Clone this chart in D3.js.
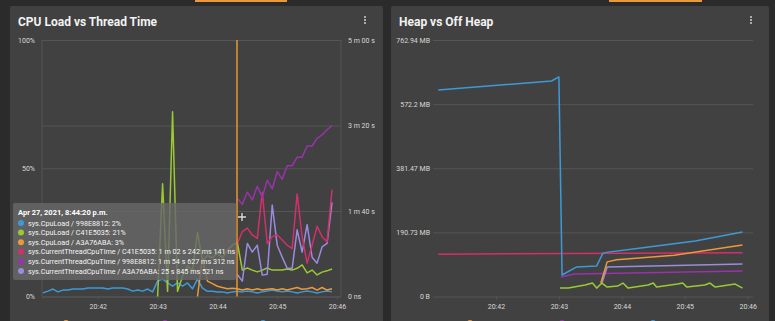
<!DOCTYPE html>
<html>
<head>
<meta charset="utf-8">
<script src="https://cdn.jsdelivr.net/npm/d3@7"></script>
<style>
    body { margin: 0; background: #2b2b2b; font-family: Roboto, "Noto Sans", sans-serif; }
    svg { display: block; }
</style>
</head>
<body>
<svg id="dash" width="775" height="321"></svg>
<script>
// ---- left chart: cpu load (%) + thread cpu time (s) ----
let cpuTimes = [
    "20:41:05","20:41:10","20:41:15","20:41:20","20:41:25","20:41:30","20:41:35","20:41:40","20:41:45","20:41:50","20:41:55","20:42:00",
    "20:42:05","20:42:10","20:42:15","20:42:20","20:42:25","20:42:30","20:42:35","20:42:40","20:42:45","20:42:50","20:42:55","20:43:00",
    "20:43:05","20:43:10","20:43:15","20:43:20","20:43:25","20:43:30","20:43:35","20:43:40","20:43:45","20:43:50","20:43:55","20:44:00",
    "20:44:05","20:44:10","20:44:15","20:44:20","20:44:25","20:44:30","20:44:35","20:44:40","20:44:45","20:44:50","20:44:55","20:45:00",
    "20:45:05","20:45:10","20:45:15","20:45:20","20:45:25","20:45:30","20:45:35","20:45:40","20:45:45","20:45:50","20:45:55"
];
let cpuLoad998 = [1.4,2.1,2.9,1.8,2.5,2.5,2.9,2.9,2.9,3.3,3.3,3.3,3.3,2.9,3.3,3.3,3.3,2.9,2.1,2.5,2.1,2.9,1.8,6.0,
    6.8,5.3,4.0,5.3,4.0,5.3,3.0,6.8,3.3,2.0,2.0,1.8,1.8,1.4,1.8,2.0,
    1.8,2.1,1.8,1.4,1.8,2.1,2.5,2.1,1.8,2.1,1.8,1.4,1.8,2.1,1.8,1.4,1.8,2.1,1.8];
let cpuLoadC41 = [null,null,null,null,null,null,null,null,null,null,null,null,null,null,null,null,null,null,null,null,null,null,null,
    0,44,2,72,2,8,12,10,25,14,16,15,17,15,18,20,21,
    10.3,11.1,10.3,9.6,10.3,11.1,10.3,10.3,10.3,10.7,10.3,11,12.3,9.2,10.3,8.4,9.5,10,10.7];
let cpuLoadA3A = [null,null,null,null,null,null,null,null,null,null,null,null,null,null,null,null,null,null,null,null,null,null,null,
    null,null,null,null,null,null,null,null,
    0,15,6,5,4,3.5,3,3.2,3,
    2.5,3,2.5,3,2.5,2.8,3,2.5,3,2.5,3,3.5,2.8,3,3.5,2.5,3.5,2.5,3];

let threadTimes = ["20:44:20","20:44:25","20:44:30","20:44:35","20:44:40","20:44:45","20:44:50","20:44:55","20:45:00","20:45:05",
    "20:45:10","20:45:15","20:45:20","20:45:25","20:45:30","20:45:35","20:45:40","20:45:45","20:45:50","20:45:55"];
let threadC41 = [62,76,80,72,68,122,62,70,72,66,60,56,120,70,39,60,82,70,64,125];
let thread998 = [114.6,108,122,113,129,116,136,126,146,137,153,153,163,163,176,176,185,189,195,200];
let threadA3A = [25.8,18,62,52,60,25,26,107,60,46,33,33,78,52,84,46,39,58,62,110];

let timeTicks = ["20:42:00", "20:43:00", "20:44:00", "20:45:00", "20:46:00"];
let loadTicks = [0, 50, 100];
let loadTickLabels = ["0%", "50%", "100%"];
let threadTicks = [0, 100, 200, 300];
let threadTickLabels = ["0 ns", "1 m 40 s", "3 m 20 s", "5 m 00 s"];

let tooltipTitle = "Apr 27, 2021, 8:44:20 p.m.";
let tooltipRows = [
    "sys.CpuLoad / 998E8812: 2%",
    "sys.CpuLoad / C41E5035: 21%",
    "sys.CpuLoad / A3A76ABA: 3%",
    "sys.CurrentThreadCpuTime / C41E5035: 1 m 02 s 242 ms 141 ns",
    "sys.CurrentThreadCpuTime / 998E8812: 1 m 54 s 627 ms 312 ns",
    "sys.CurrentThreadCpuTime / A3A76ABA: 25 s 845 ms 521 ns"
];

// ---- right chart: heap vs off heap (MiB) ----
let heapBlueTimes = ["20:41:05","20:42:53","20:43:00","20:43:03","20:43:17","20:43:36","20:43:42","20:43:47","20:44:20","20:45:10","20:45:55"];
let heapBlue = [614,641,653,64,88,91,129,132,145,165,192];
let heapCrimsonTimes = ["20:41:05","20:45:55"];
let heapCrimson = [126,130];
let heapPurpleTimes = ["20:43:02","20:43:15","20:45:55"];
let heapPurple = [58,67,76];
let heapOrangeTimes = ["20:43:40","20:43:46","20:43:55","20:44:50","20:45:55"];
let heapOrange = [40,103,109,123,153];
let heapLavenderTimes = ["20:43:41","20:43:46","20:45:55"];
let heapLavender = [40,88,97];
let heapGreenTimes = ["20:43:01","20:43:09","20:43:25","20:43:32","20:43:36","20:43:41","20:43:46","20:43:56","20:44:01","20:44:06",
    "20:44:25","20:44:30","20:44:33","20:44:53","20:44:58","20:45:02","20:45:19","20:45:24","20:45:29","20:45:48","20:45:55"];
let heapGreen = [25,25,34,40,25,40,28,31,40,25,34,40,28,37,40,28,34,40,28,37,25];

let heapTicks = [0, 190.73, 381.47, 572.2, 762.94];
let heapTickLabels = ["0 B", "190.73 MB", "381.47 MB", "572.2 MB", "762.94 MB"];

let cBlue = "#3d9ad8", cGreen = "#9bc934", cOrange = "#eb9a3a",
    cCrimson = "#d2306c", cPurple = "#9a32ad", cLavender = "#9b8be0";

let parseTime = d3.timeParse("%H:%M:%S");
let canvas = d3.select("#dash");

function styleAxis(g) {
    g.select(".domain").remove();
    g.selectAll("line").attr("stroke", "#555");
    g.selectAll("text").attr("fill", "#d8d8d8").attr("font-size", 7).attr("font-family", "Roboto, sans-serif");
}

function drawPanel(x, w, title) {
    canvas.append("rect").attr("x", x).attr("y", 6).attr("width", w).attr("height", 330)
        .attr("rx", 2).attr("fill", "#414141");
    canvas.append("text").attr("x", x + 8).attr("y", 26)
        .attr("fill", "#f2f2f2").attr("font-size", 12).attr("font-weight", "bold")
        .text(title);
    [0, 1, 2].forEach(i => {
        canvas.append("circle").attr("cx", x + w - 18).attr("cy", 17 + i * 3).attr("r", 1)
            .attr("fill", "#cfcfcf");
    });
}

function drawCpuChart() {
    let left = 42, right = 341, top = 40, bottom = 296.5;

    let x = d3.scaleTime()
        .domain([parseTime("20:41:04"), parseTime("20:46:04")])
        .range([left, right]);
    let yLoad = d3.scaleLinear().domain([0, 100]).range([bottom, top]);
    let yThread = d3.scaleLinear().domain([0, 300]).range([bottom, top]);

    canvas.append("g")
        .attr("transform", "translate(" + left + ",0)")
        .call(d3.axisLeft(yLoad).tickValues(loadTicks).tickSize(-(right - left)).tickPadding(7)
            .tickFormat((d, i) => loadTickLabels[i]))
        .call(styleAxis);

    canvas.append("g")
        .attr("transform", "translate(" + right + ",0)")
        .call(d3.axisRight(yThread).tickValues(threadTicks).tickSize(-(right - left)).tickPadding(7)
            .tickFormat((d, i) => threadTickLabels[i]))
        .call(styleAxis);

    [left, right].forEach(px => {
        canvas.append("line").attr("x1", px).attr("x2", px).attr("y1", top).attr("y2", bottom)
            .attr("stroke", "#555");
    });

    canvas.append("g")
        .attr("transform", "translate(0," + bottom + ")")
        .call(d3.axisBottom(x).tickValues(timeTicks.map(parseTime)).tickSize(3).tickPadding(5)
            .tickFormat(d3.timeFormat("%H:%M")))
        .call(styleAxis);

    let loadLine = d3.line()
        .defined(d => d.v != null)
        .x(d => x(d.t))
        .y(d => yLoad(d.v));
    let threadLine = d3.line()
        .x(d => x(d.t))
        .y(d => yThread(d.v));

    let loadSeries = [
        { values: cpuLoad998, color: cBlue },
        { values: cpuLoadA3A, color: cOrange },
        { values: cpuLoadC41, color: cGreen }
    ];
    let threadSeries = [
        { values: threadA3A, color: cLavender },
        { values: threadC41, color: cCrimson },
        { values: thread998, color: cPurple }
    ];

    loadSeries.forEach(s => {
        let pts = cpuTimes.map((t, i) => ({ t: parseTime(t), v: s.values[i] }));
        canvas.append("path").datum(pts)
            .attr("fill", "none").attr("stroke", s.color).attr("stroke-width", 1.5)
            .attr("stroke-linejoin", "round")
            .attr("d", loadLine);
    });
    threadSeries.forEach(s => {
        let pts = threadTimes.map((t, i) => ({ t: parseTime(t), v: s.values[i] }));
        canvas.append("path").datum(pts)
            .attr("fill", "none").attr("stroke", s.color).attr("stroke-width", 1.5)
            .attr("stroke-linejoin", "round")
            .attr("d", threadLine);
    });

    // hover line
    let hoverX = Math.round(x(parseTime("20:44:20")));
    canvas.append("line").attr("x1", hoverX).attr("x2", hoverX).attr("y1", top).attr("y2", bottom)
        .attr("stroke", "#e8962e").attr("stroke-width", 1.5);

    // tooltip
    let tip = canvas.append("g");
    tip.append("rect").attr("x", 13).attr("y", 203).attr("width", hoverX - 13.8).attr("height", 77)
        .attr("rx", 2).attr("fill", "rgba(104,104,104,0.82)");
    tip.append("text").attr("x", 18).attr("y", 214.5)
        .attr("fill", "#fff").attr("font-size", 7.5).attr("font-weight", "bold")
        .text(tooltipTitle);
    let tipColors = [cBlue, cGreen, cOrange, cCrimson, cPurple, cLavender];
    tooltipRows.forEach((r, i) => {
        let cy = 223 + i * 9.6;
        tip.append("circle").attr("cx", 21).attr("cy", cy).attr("r", 3).attr("fill", tipColors[i]);
        tip.append("text").attr("x", 28).attr("y", cy + 2.6)
            .attr("fill", "#f4f4f4").attr("font-size", 7.2)
            .text(r);
    });

    // mouse cursor
    let cur = canvas.append("g").attr("transform", "translate(242,217)");
    cur.append("path").attr("d", "M-4,0H4M0,-4V4").attr("stroke", "#333").attr("stroke-width", 3);
    cur.append("path").attr("d", "M-4,0H4M0,-4V4").attr("stroke", "#ddd").attr("stroke-width", 1.4);
}

function drawHeapChart() {
    let left = 433, right = 753, top = 40, bottom = 296.5;

    let x = d3.scaleTime()
        .domain([parseTime("20:41:00"), parseTime("20:46:05")])
        .range([left, right]);
    let y = d3.scaleLinear().domain([0, 762.94]).range([bottom, top]);

    canvas.append("g")
        .attr("transform", "translate(" + left + ",0)")
        .call(d3.axisLeft(y).tickValues(heapTicks).tickSize(-(right - left)).tickPadding(3)
            .tickFormat((d, i) => heapTickLabels[i]))
        .call(styleAxis);

    canvas.append("g")
        .attr("transform", "translate(0," + bottom + ")")
        .call(d3.axisBottom(x).tickValues(timeTicks.map(parseTime)).tickSize(3).tickPadding(5)
            .tickFormat(d3.timeFormat("%H:%M")))
        .call(styleAxis);

    let line = d3.line()
        .x(d => x(d.t))
        .y(d => y(d.v));

    let series = [
        { times: heapCrimsonTimes, values: heapCrimson, color: cCrimson },
        { times: heapPurpleTimes, values: heapPurple, color: cPurple },
        { times: heapGreenTimes, values: heapGreen, color: cGreen },
        { times: heapLavenderTimes, values: heapLavender, color: cLavender },
        { times: heapOrangeTimes, values: heapOrange, color: cOrange },
        { times: heapBlueTimes, values: heapBlue, color: cBlue }
    ];
    series.forEach(s => {
        let pts = s.times.map((t, i) => ({ t: parseTime(t), v: s.values[i] }));
        canvas.append("path").datum(pts)
            .attr("fill", "none").attr("stroke", s.color).attr("stroke-width", 1.5)
            .attr("stroke-linejoin", "round")
            .attr("d", line);
    });
}

// top tabs
canvas.append("rect").attr("x", 195).attr("y", 0).attr("width", 92).attr("height", 2).attr("fill", cOrange);
canvas.append("rect").attr("x", 609).attr("y", 0).attr("width", 93).attr("height", 2).attr("fill", cOrange);

drawPanel(10, 373, "CPU Load vs Thread Time");
drawPanel(391, 378, "Heap vs Off Heap");
drawCpuChart();
drawHeapChart();

// bottom legends, mostly cut off by the frame
[[66, cOrange], [165, cPurple], [263, cBlue], [470, cOrange], [562, cPurple], [653, cBlue]].forEach(d => {
    canvas.append("circle").attr("cx", d[0]).attr("cy", 323).attr("r", 3).attr("fill", d[1]);
});
</script>
</body>
</html>
